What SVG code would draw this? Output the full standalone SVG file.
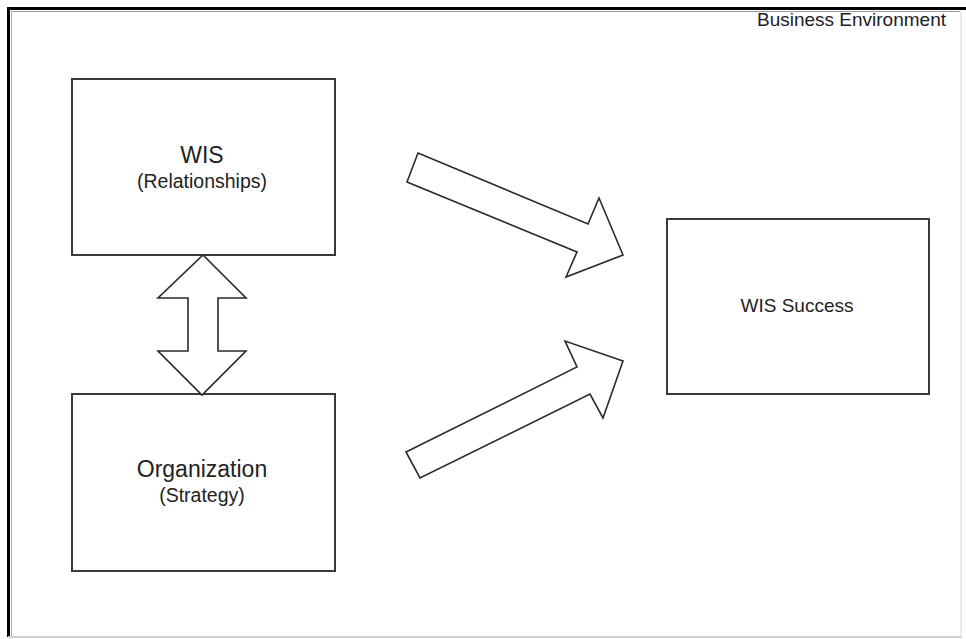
<svg xmlns="http://www.w3.org/2000/svg" width="966" height="639" viewBox="0 0 966 639">
  <style>
    .box { fill: #ffffff; stroke: #3a3a3a; stroke-width: 2; }
    .arrow { fill: #ffffff; stroke: #2a2a2a; stroke-width: 1.6; stroke-linejoin: miter; }
    .title { font-family: "Liberation Sans", Arial, sans-serif; font-size: 23px; fill: #222222; text-anchor: middle; }
    .sub { font-family: "Liberation Sans", Arial, sans-serif; font-size: 19.5px; fill: #222222; text-anchor: middle; }
    .label { font-family: "Liberation Sans", Arial, sans-serif; font-size: 19px; fill: #222222; }
  </style>

  <rect x="0" y="0" width="966" height="639" fill="#ffffff"/>

  <!-- Environment frame: dark top/left edge, light bottom/right edge -->
  <g id="business-environment">
    <line x1="8.5" y1="637" x2="8.5" y2="8.5" stroke="#000000" stroke-width="3"/>
    <line x1="7" y1="8.5" x2="966" y2="8.5" stroke="#000000" stroke-width="3"/>
    <line x1="11" y1="11.5" x2="960" y2="11.5" stroke="#9a9a9a" stroke-width="1"/>
    <line x1="11.5" y1="11" x2="11.5" y2="636" stroke="#b0b0b0" stroke-width="1"/>
    <line x1="8" y1="637" x2="962" y2="637" stroke="#cfcfcf" stroke-width="2"/>
    <line x1="961" y1="11" x2="961" y2="637" stroke="#e4e4e4" stroke-width="1.5"/>
    <text class="label" x="946" y="25.5" text-anchor="end">Business Environment</text>
  </g>

  <g id="wis">
    <rect class="box" x="72" y="79" width="263" height="176"/>
    <text class="title" x="202" y="163">WIS</text>
    <text class="sub" x="202" y="188">(Relationships)</text>
  </g>

  <g id="organization">
    <rect class="box" x="72" y="394" width="263" height="177"/>
    <text class="title" x="202" y="477">Organization</text>
    <text class="sub" x="202" y="502">(Strategy)</text>
  </g>

  <g id="wis-success">
    <rect class="box" x="667" y="219" width="262" height="175"/>
    <text class="label" x="797" y="312" text-anchor="middle">WIS Success</text>
  </g>

  <g id="connectors">
    <!-- two-way block arrow between WIS and Organization -->
    <polygon class="arrow" points="203,255 246,298 218,298 218,351 246,351 202,395 158,351 188,351 188,298 158,298"/>
    <!-- WIS to WIS Success -->
    <polygon class="arrow" points="418,153 588,224 599,198 623,255 566,277 577,252 407,182"/>
    <!-- Organization to WIS Success -->
    <polygon class="arrow" points="406,452 577,367 565,341 623,361 603,418 590,394 420,478"/>
  </g>
</svg>
